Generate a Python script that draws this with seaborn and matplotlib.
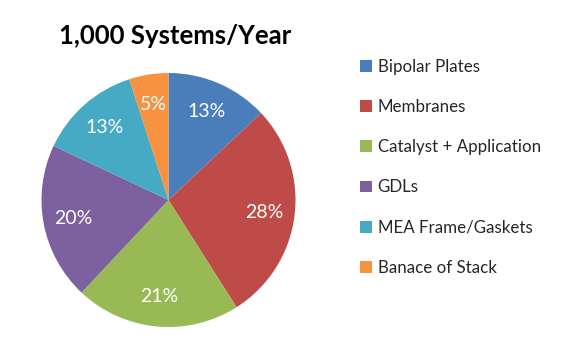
import matplotlib
matplotlib.use("Agg")
import matplotlib.pyplot as plt
import seaborn as sns
from matplotlib.patches import Patch

categories = ["Bipolar Plates", "Membranes", "Catalyst + Application", "GDLs",
              "MEA Frame/Gaskets", "Banace of Stack"]
values = [13, 28, 21, 20, 13, 5]
colors = ["#4A7EBB", "#BE4B48", "#98B954", "#7D60A0", "#46AAC5", "#F69240"]
title = "1,000 Systems/Year"

sns.set_theme(style="white")
plt.rcParams['font.family'] = ['Lato', 'DejaVu Sans']

fig = plt.figure(figsize=(5.78, 3.48), dpi=100)
W, H = 578, 348
cx, cy, R = 168.5, 200, 127
ax = fig.add_axes([(cx - R) / W, (H - cy - R) / H, 2 * R / W, 2 * R / H])
wedges, texts, autotexts = ax.pie(
    values, colors=colors, startangle=90, counterclock=False,
    autopct=lambda p: f"{p:.0f}%", pctdistance=0.76,
    wedgeprops=dict(linewidth=0),
    textprops=dict(color="white", fontsize=14))
ax.set_xlim(-1, 1)
ax.set_ylim(-1, 1)
ax.set_aspect("equal")
ax.axis("off")

fig.text(175 / W, 1 - 36 / H, title, ha="center", va="center",
         fontsize=18.5, fontweight="bold", color="black")

handles = [Patch(facecolor=c, edgecolor="none") for c in colors]
fig.legend(handles, categories, loc="upper left",
           bbox_to_anchor=(353 / W, 1 - 52 / H), frameon=False,
           fontsize=12.2, handlelength=0.7, handleheight=0.7,
           handletextpad=0.35, labelspacing=1.43, borderaxespad=0)

fig.savefig("out.png", dpi=100, facecolor="white")
